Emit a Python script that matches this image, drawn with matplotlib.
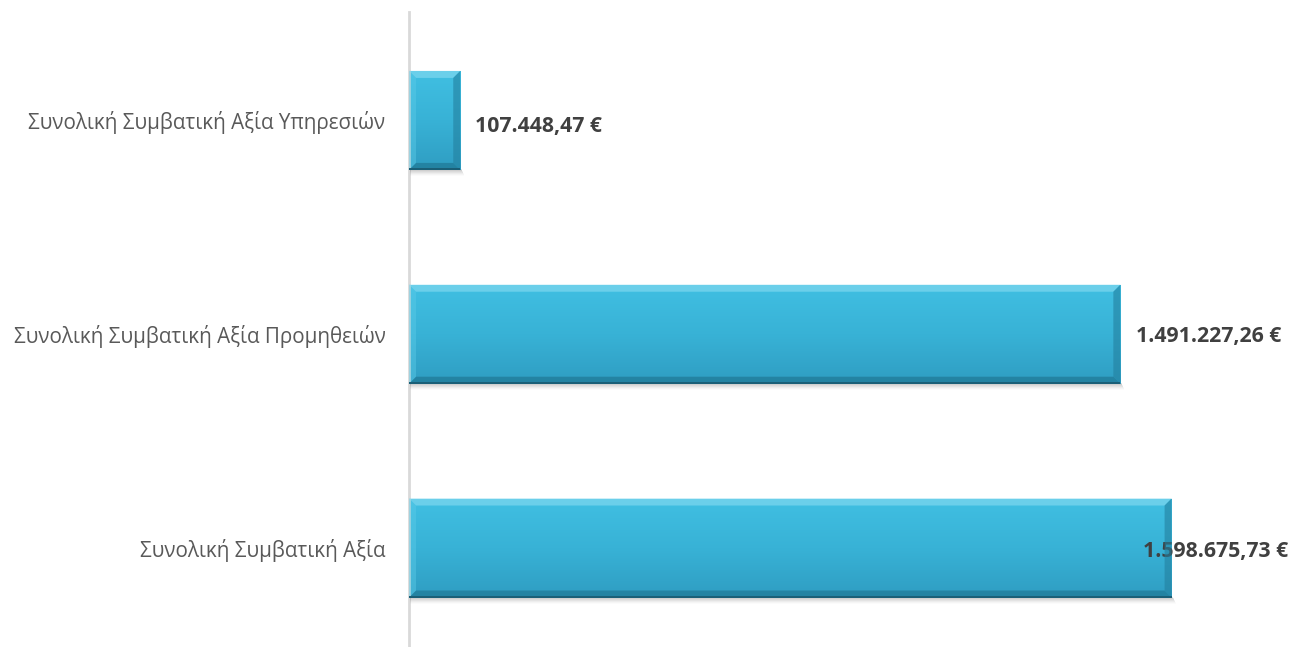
import matplotlib
matplotlib.use("Agg")
import matplotlib.pyplot as plt
import numpy as np
from matplotlib.patches import Polygon, Rectangle
from matplotlib.transforms import IdentityTransform
from matplotlib.colors import LinearSegmentedColormap

categories = ["Συνολική Συμβατική Αξία", "Συνολική Συμβατική Αξία Προμηθειών", "Συνολική Συμβατική Αξία Υπηρεσιών"]
values = [1598675.73, 1491227.26, 107448.47]
value_labels = ["1.598.675,73 €", "1.491.227,26 €", "107.448,47 €"]

W, H = 1291, 647
fig = plt.figure(figsize=(W / 100, H / 100), dpi=100)
ax = fig.add_axes([409 / W, 0, 1 - 409 / W, (647 - 12) / 647])

ypos = np.arange(len(categories))
bars = ax.barh(ypos, values, height=0.463, color="#3AB6DA", edgecolor="none", zorder=2)
ax.set_xlim(0, 1849000)
ax.set_ylim(-0.463, 2.507)

for s in ["top", "right", "bottom"]:
    ax.spines[s].set_visible(False)
ax.spines["left"].set_color("#D9D9D9")
ax.spines["left"].set_linewidth(2)
ax.spines["left"].set_zorder(5)
ax.set_xticks([])
ax.set_yticks(ypos)
ax.set_yticklabels(categories, fontsize=14.9, color="#595959", family=["Open Sans", "DejaVu Sans"])
ax.tick_params(axis="y", length=0, pad=17)

fig.canvas.draw()
grad = np.linspace(0, 1, 256).reshape(-1, 1)
cmap = LinearSegmentedColormap.from_list("g", ["#40BFE2", "#38B2D6", "#2F9DC2"])
for b in bars:
    x0, y0, w, h = b.get_x(), b.get_y(), b.get_width(), b.get_height()
    (px0, py0), (px1, py1) = ax.transData.transform([(x0, y0), (x0 + w, y0 + h)])
    # soft shadow
    for k, a in zip(range(1, 7), [0.18, 0.14, 0.10, 0.07, 0.04, 0.02]):
        fig.patches.append(Rectangle((px0 + 1, py0 - k), px1 - px0 + k * 0.5, 2, transform=IdentityTransform(),
                                     facecolor="#606060", alpha=a, edgecolor="none", zorder=1))
    im = ax.imshow(grad, extent=(x0, x0 + w, y0, y0 + h), aspect="auto", cmap=cmap, origin="upper", zorder=3)
    im.set_clip_path(b)
    d = 7
    bevels = [
        ([(px0, py1), (px1, py1), (px1 - d, py1 - d), (px0 + d, py1 - d)], "#7BD6EE", 0.75),  # top
        ([(px0, py0), (px1, py0), (px1 - d, py0 + d), (px0 + d, py0 + d)], "#207A98", 0.75),  # bottom
        ([(px0, py0), (px0, py1), (px0 + d, py1 - d), (px0 + d, py0 + d)], "#5CCBE8", 0.45),  # left
        ([(px1, py0), (px1, py1), (px1 - d, py1 - d), (px1 - d, py0 + d)], "#23809F", 0.6),  # right
    ]
    for pts, c, a in bevels:
        fig.patches.append(Polygon(pts, closed=True, transform=IdentityTransform(), facecolor=c,
                                   edgecolor="none", alpha=a, zorder=4))
    fig.patches.append(Rectangle((px0, py0), px1 - px0, 1.5, transform=IdentityTransform(),
                                 facecolor="#1A5F77", edgecolor="none", zorder=4))

offsets = [-29, 16, 15]
dy = [-3, -2, -6]
for b, lab, ox, oy in zip(bars, value_labels, offsets, dy):
    ax.annotate(lab, (b.get_width(), b.get_y() + b.get_height() / 2), xytext=(ox * 0.72, oy * 0.72),
                textcoords="offset points", ha="left", va="center", fontsize=15.3, fontweight="bold",
                color="#404040", family=["Open Sans", "DejaVu Sans"], zorder=6, annotation_clip=False)

fig.savefig("out.png", dpi=100)
